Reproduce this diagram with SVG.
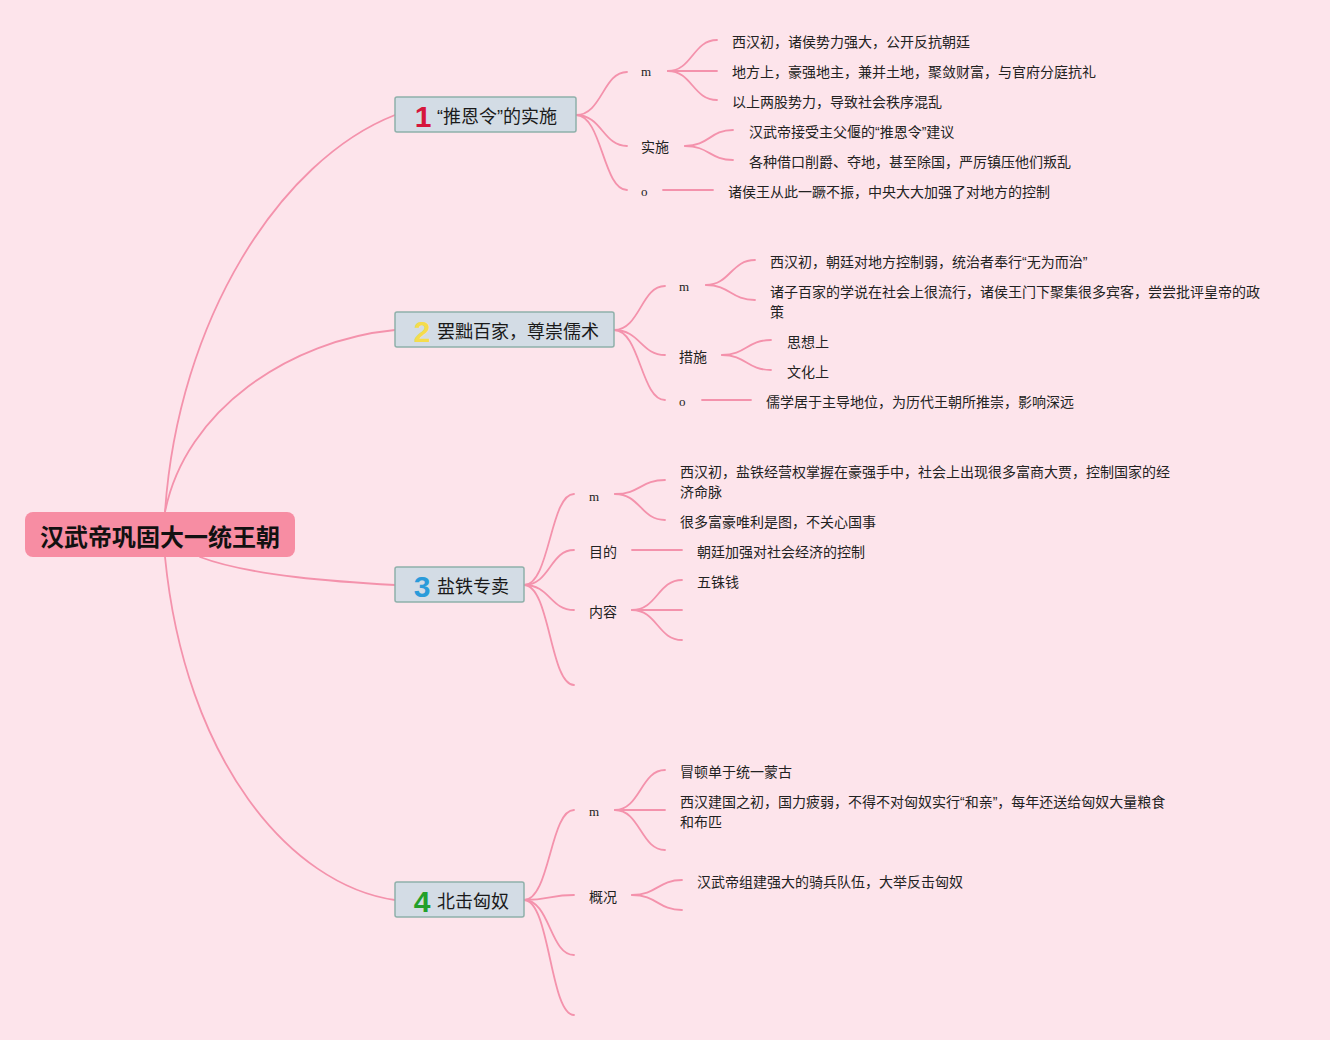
<svg xmlns="http://www.w3.org/2000/svg" width="1330" height="1040" viewBox="0 0 1330 1040">
<style>
.bg{fill:#FDE4EB}
.ln{fill:none;stroke:#F492AC;stroke-width:1.8;stroke-linecap:round}
.root{fill:#F78DA3}
.rt{font-family:"Liberation Sans","Noto Sans CJK SC",sans-serif;font-size:24px;font-weight:bold;fill:#111;dominant-baseline:central;text-anchor:middle}
.box{fill:#D3DCE5;stroke:#8FB0AA;stroke-width:1.5}
.bt{font-family:"Liberation Sans","Noto Sans CJK SC",sans-serif;font-size:18px;fill:#1a1a1a;dominant-baseline:central}
.num{font-family:"Liberation Sans","DejaVu Sans",sans-serif;font-size:30px;font-weight:bold;dominant-baseline:central;text-anchor:middle}
.t{font-family:"Liberation Sans","Noto Sans CJK SC",sans-serif;font-size:14px;fill:#222;dominant-baseline:central}
.s{font-family:"Liberation Serif","DejaVu Serif",serif;font-size:13px;fill:#222;dominant-baseline:central}
</style>
<rect class="bg" x="0" y="0" width="1330" height="1040"/>
<g id="connectors">
<path class="ln" d="M165,512 C178,320 280,160 395,115"/>
<path class="ln" d="M165,512 C185,410 290,340 395,330"/>
<path class="ln" d="M200,557 C250,576 340,582 395,585"/>
<path class="ln" d="M165,557 C185,760 290,885 395,900"/>
<path class="ln" d="M576,115 C602,115 603,72 627,72"/>
<path class="ln" d="M576,115 C602,115 603,146 627,146"/>
<path class="ln" d="M576,115 C602,115 603,190 627,190"/>
<path class="ln" d="M668,71 C692,71 693,40 717,40"/>
<path class="ln" d="M668,71 L717,71"/>
<path class="ln" d="M668,71 C692,71 693,100 717,100"/>
<path class="ln" d="M685,146 C709,146 710,130 733,130"/>
<path class="ln" d="M685,146 C709,146 710,160 733,160"/>
<path class="ln" d="M663,190 L713,190"/>
<path class="ln" d="M614,330 C640,330 641,286 665,286"/>
<path class="ln" d="M614,330 C640,330 641,355 665,355"/>
<path class="ln" d="M614,330 C640,330 641,400 665,400"/>
<path class="ln" d="M706,285 C730,285 731,260 755,260"/>
<path class="ln" d="M706,285 C730,285 731,300 755,300"/>
<path class="ln" d="M722,355 C746,355 747,340 771,340"/>
<path class="ln" d="M722,355 C746,355 747,370 771,370"/>
<path class="ln" d="M702,400 L751,400"/>
<path class="ln" d="M524,585 C550,585 550,494 574,494"/>
<path class="ln" d="M524,585 C550,585 550,550 574,550"/>
<path class="ln" d="M524,585 C550,585 550,610 574,610"/>
<path class="ln" d="M524,585 C550,585 550,685 574,685"/>
<path class="ln" d="M615,494 C640,494 641,480 665,480"/>
<path class="ln" d="M615,494 C640,494 641,520 665,520"/>
<path class="ln" d="M632,550 L682,550"/>
<path class="ln" d="M632,610 C657,610 658,580 682,580"/>
<path class="ln" d="M632,610 L682,610"/>
<path class="ln" d="M632,610 C657,610 658,640 682,640"/>
<path class="ln" d="M524,900 C550,900 550,810 574,810"/>
<path class="ln" d="M524,900 C550,900 550,895 574,895"/>
<path class="ln" d="M524,900 C550,900 550,955 574,955"/>
<path class="ln" d="M524,900 C550,900 550,1015 574,1015"/>
<path class="ln" d="M615,810 C640,810 641,770 665,770"/>
<path class="ln" d="M615,810 L665,810"/>
<path class="ln" d="M615,810 C640,810 641,850 665,850"/>
<path class="ln" d="M632,895 C657,895 658,880 682,880"/>
<path class="ln" d="M632,895 C657,895 658,910 682,910"/>
</g>
<g id="root">
<rect class="root" x="25" y="512" width="270" height="45" rx="8"/>
<text class="rt" x="160" y="537">汉武帝巩固大一统王朝</text>
</g>
<g id="topic1">
<rect class="box" x="395" y="97" width="181" height="35" rx="2"/>
<text class="num" x="423" y="116" fill="#D6163B">1</text>
<text class="bt" x="437" y="117">“推恩令”的实施</text>
</g>
<g id="topic2">
<rect class="box" x="395" y="312" width="219" height="35" rx="2"/>
<text class="num" x="422" y="331" fill="#F5DC4C">2</text>
<text class="bt" x="437" y="332">罢黜百家，尊崇儒术</text>
</g>
<g id="topic3">
<rect class="box" x="395" y="567" width="129" height="35" rx="2"/>
<text class="num" x="422" y="586" fill="#2A9BDA">3</text>
<text class="bt" x="437" y="587">盐铁专卖</text>
</g>
<g id="topic4">
<rect class="box" x="395" y="882" width="129" height="35" rx="2"/>
<text class="num" x="422" y="901" fill="#23A02A">4</text>
<text class="bt" x="437" y="902">北击匈奴</text>
</g>
<g id="t1-sub">
<text class="s" x="641" y="71">m</text>
<text class="t" x="641" y="147">实施</text>
<text class="s" x="641" y="191">o</text>
<text class="t" x="732" y="42">西汉初，诸侯势力强大，公开反抗朝廷</text>
<text class="t" x="732" y="72">地方上，豪强地主，兼并土地，聚敛财富，与官府分庭抗礼</text>
<text class="t" x="732" y="102">以上两股势力，导致社会秩序混乱</text>
<text class="t" x="749" y="132">汉武帝接受主父偃的“推恩令”建议</text>
<text class="t" x="749" y="162">各种借口削爵、夺地，甚至除国，严厉镇压他们叛乱</text>
<text class="t" x="728" y="192">诸侯王从此一蹶不振，中央大大加强了对地方的控制</text>
</g>
<g id="t2-sub">
<text class="s" x="679" y="286">m</text>
<text class="t" x="679" y="357">措施</text>
<text class="s" x="679" y="401">o</text>
<text class="t" x="770" y="262">西汉初，朝廷对地方控制弱，统治者奉行“无为而治”</text>
<text class="t" x="770" y="292">诸子百家的学说在社会上很流行，诸侯王门下聚集很多宾客，尝尝批评皇帝的政</text>
<text class="t" x="770" y="312">策</text>
<text class="t" x="787" y="342">思想上</text>
<text class="t" x="787" y="372">文化上</text>
<text class="t" x="766" y="402">儒学居于主导地位，为历代王朝所推崇，影响深远</text>
</g>
<g id="t3-sub">
<text class="s" x="589" y="496">m</text>
<text class="t" x="589" y="552">目的</text>
<text class="t" x="589" y="612">内容</text>
<text class="t" x="680" y="472">西汉初，盐铁经营权掌握在豪强手中，社会上出现很多富商大贾，控制国家的经</text>
<text class="t" x="680" y="492">济命脉</text>
<text class="t" x="680" y="522">很多富豪唯利是图，不关心国事</text>
<text class="t" x="697" y="552">朝廷加强对社会经济的控制</text>
<text class="t" x="697" y="582">五铢钱</text>
</g>
<g id="t4-sub">
<text class="s" x="589" y="811">m</text>
<text class="t" x="589" y="897">概况</text>
<text class="t" x="680" y="772">冒顿单于统一蒙古</text>
<text class="t" x="680" y="802">西汉建国之初，国力疲弱，不得不对匈奴实行“和亲”，每年还送给匈奴大量粮食</text>
<text class="t" x="680" y="822">和布匹</text>
<text class="t" x="697" y="882">汉武帝组建强大的骑兵队伍，大举反击匈奴</text>
</g>
</svg>
